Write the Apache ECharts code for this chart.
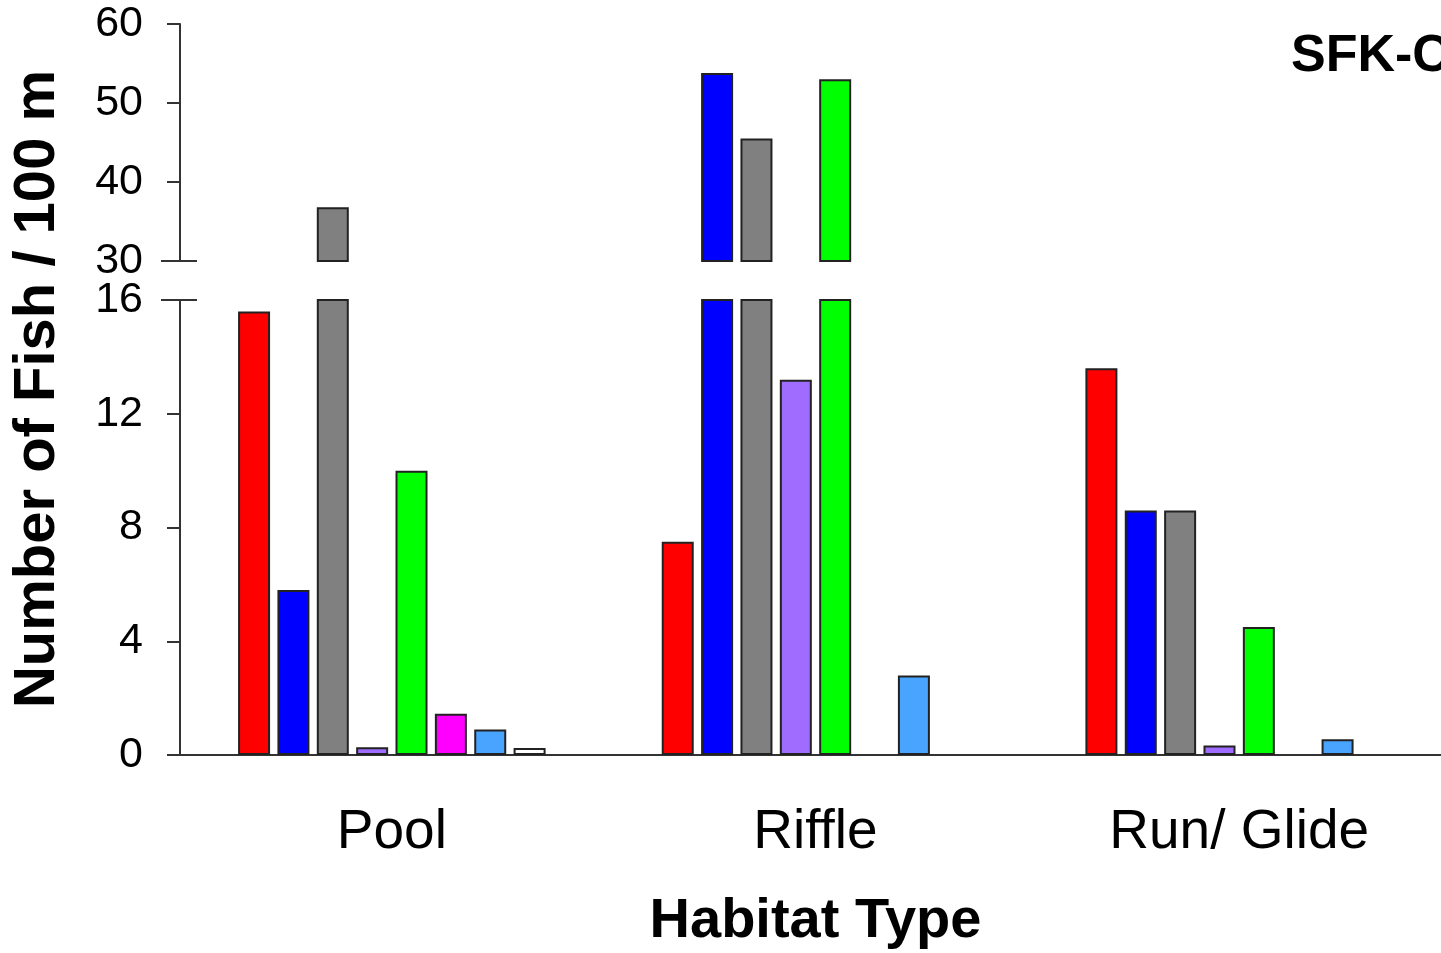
<!DOCTYPE html>
<html>
<head>
<meta charset="utf-8">
<script src="https://cdn.jsdelivr.net/npm/echarts@6/dist/echarts.min.js"></script>
<style>
  html, body { margin: 0; padding: 0; background: #ffffff; }
  #chart { width: 1441px; height: 953px; }
</style>
</head>
<body>
<div id="chart"></div>
<script>
// Habitat categories on the x axis
const habitats = ['Pool', 'Riffle', 'Run/ Glide'];

// Fish per 100 m, one array per taxon, in habitat order
const taxonA = [15.6, 7.5, 13.6];
const taxonB = [5.8, 53.8, 8.6];
const taxonC = [36.8, 45.5, 8.6];
const taxonD = [0.27, 13.2, 0.33];
const taxonE = [10.0, 53.0, 4.5];
const taxonF = [1.45, null, null];
const taxonG = [0.9, 2.8, 0.55];
const taxonH = [0.25, null, null];

// Broken value axis: upper panel and lower panel tick settings
const upperTicks = { min: 30, max: 60, interval: 10 };
const lowerTicks = { min: 0, max: 16, interval: 4 };

const taxa = [
  { name: 'Taxon A', data: taxonA, color: '#ff0000' },
  { name: 'Taxon B', data: taxonB, color: '#0000ff' },
  { name: 'Taxon C', data: taxonC, color: '#808080' },
  { name: 'Taxon D', data: taxonD, color: '#9f6cff' },
  { name: 'Taxon E', data: taxonE, color: '#00ff00' },
  { name: 'Taxon F', data: taxonF, color: '#ff00ff' },
  { name: 'Taxon G', data: taxonG, color: '#48a4ff' },
  { name: 'Taxon H', data: taxonH, color: '#ffffff' }
];

const FONT = '"Liberation Sans", Arial, sans-serif';
const AXIS_COLOR = '#333333';
const GRID_LEFT = 180;

const chart = echarts.init(document.getElementById('chart'), null, { renderer: 'canvas' });

const series = [];
[0, 1].forEach(function (g) {
  taxa.forEach(function (t) {
    series.push({
      type: 'bar',
      name: t.name,
      xAxisIndex: g,
      yAxisIndex: g,
      data: t.data,
      barWidth: 32,
      barGap: '23%',
      clip: true,
      silent: true,
      itemStyle: { color: t.color, borderColor: '#222222', borderWidth: 2 }
    });
  });
});

const axisLineStyle = { lineStyle: { color: AXIS_COLOR, width: 2 } };

chart.setOption({
  animation: false,
  backgroundColor: '#ffffff',
  grid: [
    { left: GRID_LEFT, right: -10, top: 24, height: 237, outerBoundsMode: 'none', containLabel: false },
    { left: GRID_LEFT, right: -10, top: 300, height: 455, outerBoundsMode: 'none', containLabel: false }
  ],
  xAxis: [
    { type: 'category', gridIndex: 0, data: habitats, show: false },
    {
      type: 'category', gridIndex: 1, data: habitats,
      axisLine: axisLineStyle,
      axisTick: { alignWithLabel: true, length: 13, lineStyle: { color: AXIS_COLOR, width: 2 } },
      axisLabel: { fontFamily: FONT, fontSize: 55, color: '#000000', margin: 50 },
      name: 'Habitat Type',
      nameLocation: 'middle',
      nameGap: 139,
      nameTextStyle: { fontFamily: FONT, fontSize: 56, fontWeight: 'bold', color: '#000000' }
    }
  ],
  yAxis: [
    {
      type: 'value', gridIndex: 0,
      min: upperTicks.min, max: upperTicks.max, interval: upperTicks.interval,
      splitLine: { show: false },
      axisLine: { show: true, lineStyle: { color: AXIS_COLOR, width: 2 } },
      axisTick: { show: true, length: 13, lineStyle: { color: AXIS_COLOR, width: 2 } },
      axisLabel: { fontFamily: FONT, fontSize: 43, color: '#000000', margin: 37 }
    },
    {
      type: 'value', gridIndex: 1,
      min: lowerTicks.min, max: lowerTicks.max, interval: lowerTicks.interval,
      splitLine: { show: false },
      axisLine: { show: true, lineStyle: { color: AXIS_COLOR, width: 2 } },
      axisTick: { show: true, length: 13, lineStyle: { color: AXIS_COLOR, width: 2 } },
      axisLabel: { fontFamily: FONT, fontSize: 43, color: '#000000', margin: 37 }
    }
  ],
  series: series
});

// Break marks where the value axis is split, placed through the axis scales
const yBreakUpper = chart.convertToPixel({ yAxisIndex: 0 }, upperTicks.min);
const yBreakLower = chart.convertToPixel({ yAxisIndex: 1 }, lowerTicks.max);

function breakMark(y) {
  return {
    type: 'line',
    shape: { x1: GRID_LEFT - 19, y1: y, x2: GRID_LEFT + 17, y2: y },
    style: { stroke: AXIS_COLOR, lineWidth: 2 },
    silent: true
  };
}

chart.setOption({
  graphic: [
    breakMark(yBreakUpper),
    breakMark(yBreakLower),
    {
      type: 'text',
      x: 38, y: 389,
      rotation: Math.PI / 2,
      style: {
        text: 'Number of Fish / 100 m',
        font: 'bold 58px ' + FONT,
        fill: '#000000',
        align: 'center',
        verticalAlign: 'middle'
      },
      silent: true
    },
    {
      type: 'text',
      x: 1291, y: 57,
      style: {
        text: 'SFK-C',
        font: 'bold 52px ' + FONT,
        fill: '#000000',
        align: 'left',
        verticalAlign: 'middle'
      },
      silent: true
    }
  ]
});
</script>
</body>
</html>
